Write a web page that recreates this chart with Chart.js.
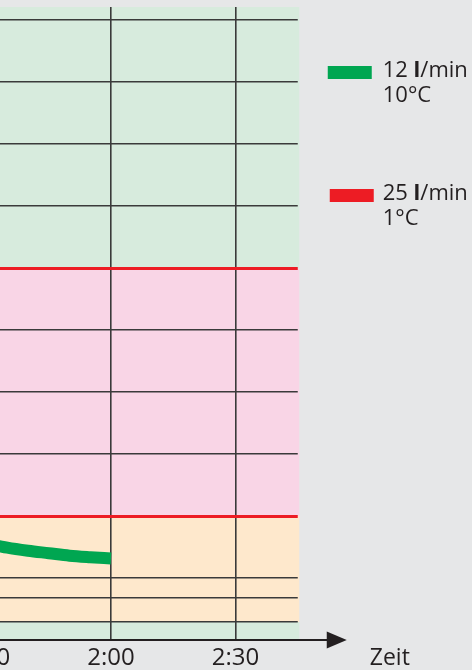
<!DOCTYPE html>
<html>
<head>
<meta charset="utf-8">
<script src="https://cdn.jsdelivr.net/npm/chart.js@4.4.1/dist/chart.umd.min.js"></script>
<style>
  body { margin: 0; background: #e6e7e8; overflow: hidden; }
  #wrap { position: relative; width: 472px; height: 670px; overflow: hidden; }
  #chart { position: absolute; left: -100px; top: 0; }
</style>
</head>
<body>
<div id="wrap"><canvas id="chart" width="572" height="670"></canvas></div>
<script>
// time in minutes, curve values in chart units
const times = [85, 90, 95, 100, 105, 110, 115, 120];
const flowValues = [1.63, 1.56, 1.49, 1.44, 1.40, 1.36, 1.335, 1.315];

const xTicks = [90, 120, 150];
const yTicks = [0.29, 0.69, 1, 2, 3, 4, 5, 6, 7, 8, 9, 10];
const redLines = [2, 6];

// background bands (from, to, colour)
const bandFrom = [0, 0.29, 2, 6];
const bandTo = [0.29, 2, 6, 10.21];
const bandColors = ['#d7ebdd', '#fee8cc', '#f9d5e6', '#d7ebdd'];

const legendLines = [['12 ', 'l', '/min', '10°C'], ['25 ', 'l', '/min', '1°C']];
const legendColors = ['#00a651', '#ed1c24'];

const FONT = '"Open Sans", "Noto Sans", sans-serif';

const bands = {
  id: 'bands',
  beforeDraw(chart) {
    const c = chart.ctx, a = chart.chartArea, y = chart.scales.y;
    c.save();
    for (let i = 0; i < bandFrom.length; i++) {
      const top = y.getPixelForValue(bandTo[i]);
      const bot = y.getPixelForValue(bandFrom[i]);
      c.fillStyle = bandColors[i];
      c.fillRect(a.left, top, a.right - a.left + 1.5, bot - top);
    }
    c.restore();
  }
};

const extras = {
  id: 'extras',
  afterDraw(chart) {
    const c = chart.ctx, a = chart.chartArea;
    c.save();
    // x axis with arrow
    c.strokeStyle = '#231f20';
    c.fillStyle = '#231f20';
    c.lineWidth = 2;
    c.beginPath();
    c.moveTo(a.left, a.bottom);
    c.lineTo(a.right + 40, a.bottom);
    c.stroke();
    c.beginPath();
    c.moveTo(a.right + 29, a.bottom - 8.5);
    c.lineTo(a.right + 49, a.bottom);
    c.lineTo(a.right + 29, a.bottom + 8.5);
    c.closePath();
    c.fill();
    // axis name
    c.font = '23px ' + FONT;
    c.textBaseline = 'middle';
    c.textAlign = 'left';
    c.fillText('Zeit', a.right + 72, a.bottom + 18);
    // legend
    const boxY = [66, 189];
    for (let i = 0; i < legendLines.length; i++) {
      const x = a.right + 30;
      c.fillStyle = legendColors[i];
      c.fillRect(x + i * 2, boxY[i], 44, 13);
      c.fillStyle = '#231f20';
      let tx = a.right + 85;
      const ty = boxY[i] + 5;
      const parts = legendLines[i];
      c.font = '22px ' + FONT;
      c.fillText(parts[0], tx, ty);
      tx += c.measureText(parts[0]).width;
      c.font = 'bold 22px ' + FONT;
      c.fillText(parts[1], tx, ty);
      tx += c.measureText(parts[1]).width;
      c.font = '22px ' + FONT;
      c.fillText(parts[2], tx, ty);
      c.fillText(parts[3], a.right + 85, ty + 25);
    }
    c.restore();
  }
};

const config = {
  type: 'line',
  data: {
    datasets: [{
      label: '12 l/min 10°C',
      data: times.map((t, i) => ({ x: t, y: flowValues[i] })),
      borderColor: '#00a651',
      borderWidth: 12,
      borderCapStyle: 'butt',
      pointRadius: 0,
      cubicInterpolationMode: 'monotone',
      fill: false
    }]
  },
  options: {
    responsive: false,
    animation: false,
    layout: { padding: { left: 24.25, right: 174.25, top: 7, bottom: 0 } },
    plugins: { legend: { display: false }, tooltip: { enabled: false } },
    scales: {
      x: {
        type: 'linear',
        min: 75,
        max: 165,
        afterBuildTicks(scale) { scale.ticks = xTicks.map(v => ({ value: v })); },
        afterFit(scale) { scale.height = 30; },
        border: { display: false },
        grid: { color: '#3a3a3a', lineWidth: 1.6, drawTicks: false },
        ticks: {
          autoSkip: false,
          maxRotation: 0,
          padding: 4,
          color: '#231f20',
          font: { family: FONT, size: 24 },
          callback: v => Math.floor(v / 60) + ':' + String(v % 60).padStart(2, '0')
        }
      },
      y: {
        min: 0,
        max: 10.21,
        afterBuildTicks(scale) { scale.ticks = yTicks.map(v => ({ value: v })); },
        afterFit(scale) { scale.width = 0; },
        border: { display: false },
        grid: {
          drawTicks: false,
          color: ctx => redLines.includes(ctx.tick.value) ? '#ed1c24' : '#3a3a3a',
          lineWidth: ctx => redLines.includes(ctx.tick.value) ? 3 : 1.4
        },
        ticks: { display: false }
      }
    }
  },
  plugins: [bands, extras]
};

new Chart(document.getElementById('chart'), config);
</script>
</body>
</html>
